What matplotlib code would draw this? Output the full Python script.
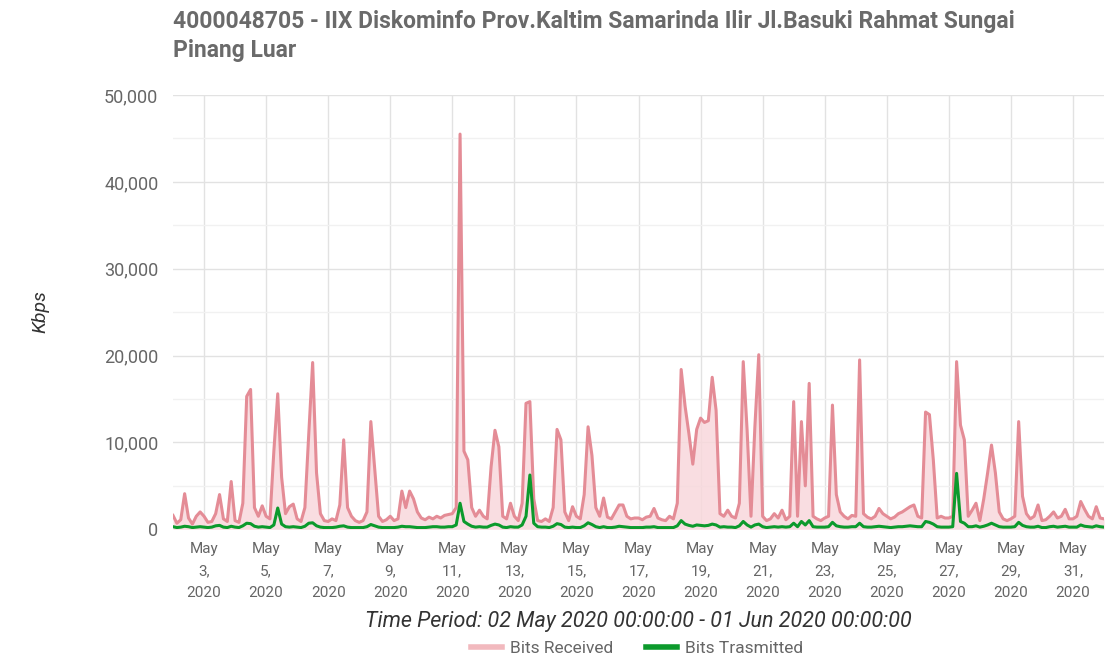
import numpy as np
import matplotlib
matplotlib.use("Agg")
import matplotlib.pyplot as plt
from matplotlib.lines import Line2D

# ---------------- data (Kbps, 3-hour samples starting 02 May 2020 00:00) ----------------
title = "4000048705 - IIX Diskominfo Prov.Kaltim Samarinda Ilir Jl.Basuki Rahmat Sungai\nPinang Luar"
period_label = "Time Period: 02 May 2020 00:00:00 - 01 Jun 2020 00:00:00"
y_label = "Kbps"
series_names = ["Bits Received", "Bits Trasmitted"]
samples_per_day = 8
tick_days = list(range(1, 30, 2))
tick_labels = [f"May\n{d + 2},\n2020" for d in tick_days]

bits_received = [
    1600, 700, 1100, 4100, 1300, 600, 1500, 2000,        # May 2
    1500, 800, 900, 1800, 4000, 1200, 900, 5500,         # May 3
    1000, 800, 3000, 15300, 16100, 2500, 1500, 2700,     # May 4
    1500, 1200, 9000, 15600, 6000, 1800, 2600, 2900,     # May 5
    1200, 900, 2500, 11000, 19200, 6500, 1800, 1000,     # May 6
    900, 1200, 1000, 2800, 10300, 2500, 1500, 1000,      # May 7
    800, 1000, 2000, 12400, 7000, 1500, 900, 1100,       # May 8
    1500, 1000, 1200, 4400, 2500, 4400, 3500, 2000,      # May 9
    1300, 1100, 1400, 1200, 1500, 1300, 1600, 1700,      # May 10
    1800, 2500, 45500, 9000, 8000, 2500, 1500, 2200,     # May 11
    1500, 1200, 7200, 11400, 9500, 1500, 1200, 3000,     # May 12
    1500, 1000, 3000, 14500, 14700, 3500, 1000, 900,     # May 13
    1200, 900, 2500, 11500, 10300, 2000, 1000, 2600,     # May 14
    1500, 1200, 4000, 11800, 8500, 2500, 1500, 3600,     # May 15
    1400, 1200, 2000, 2800, 2800, 1500, 1200, 1300,      # May 16
    1300, 1100, 1400, 1500, 2400, 1300, 1100, 1000,      # May 17
    1500, 1200, 3000, 18400, 14200, 11000, 7500, 11500,  # May 18
    12800, 12300, 12500, 17500, 13700, 1800, 1500, 2200, # May 19
    1500, 1300, 3000, 19300, 11400, 1500, 11800, 20100,  # May 20
    1500, 1000, 1200, 1800, 1300, 2200, 1100, 1500,      # May 21
    14700, 1500, 12400, 5000, 16800, 1500, 1200, 1000,   # May 22
    1300, 1500, 14300, 4000, 2000, 1500, 1200, 1600,     # May 23
    1500, 19500, 1800, 1400, 1200, 1500, 2400, 1800,     # May 24
    1500, 1200, 1400, 1800, 2000, 2300, 2600, 2800,      # May 25
    1500, 1300, 13500, 13200, 8000, 1300, 1500, 1300,    # May 26
    1300, 1500, 19300, 12000, 10300, 1500, 2200, 3000,   # May 27
    1000, 3500, 6500, 9700, 6500, 2000, 1200, 1000,      # May 28
    1200, 1500, 12400, 3800, 1800, 1200, 1500, 2800,     # May 29
    1000, 1100, 1500, 2000, 1300, 1500, 2300, 1200,      # May 30
    1200, 1500, 3200, 2300, 1500, 1200, 2600, 1300,      # May 31
    1200,                                                # Jun 1
]

bits_transmitted = [
    300, 200, 250, 350, 300, 200, 250, 300,
    250, 200, 250, 400, 450, 250, 200, 350,
    250, 200, 400, 700, 650, 350, 250, 300,
    250, 200, 500, 2450, 600, 300, 250, 300,
    250, 200, 350, 700, 750, 400, 250, 200,
    200, 200, 250, 350, 400, 250, 200, 200,
    200, 200, 300, 550, 400, 250, 200, 200,
    200, 200, 250, 350, 300, 300, 250, 200,
    200, 200, 250, 300, 300, 250, 250, 300,
    300, 500, 3000, 900, 600, 350, 250, 300,
    250, 250, 450, 600, 500, 250, 200, 300,
    250, 250, 500, 1500, 6250, 700, 300, 250,
    250, 200, 350, 650, 550, 250, 200, 250,
    200, 200, 400, 750, 550, 300, 200, 300,
    200, 200, 250, 350, 300, 250, 200, 200,
    200, 200, 250, 250, 300, 200, 200, 200,
    200, 200, 400, 1000, 600, 450, 350, 500,
    450, 400, 450, 600, 500, 250, 300, 250,
    250, 200, 400, 900, 500, 250, 500, 600,
    300, 200, 250, 300, 250, 300, 250, 300,
    700, 300, 900, 500, 1000, 300, 250, 250,
    250, 300, 800, 400, 300, 250, 250, 300,
    300, 700, 300, 250, 250, 300, 350, 300,
    250, 200, 250, 300, 300, 350, 400, 350,
    300, 300, 900, 800, 600, 300, 250, 250,
    250, 300, 6440, 900, 700, 300, 300, 400,
    250, 350, 500, 700, 500, 300, 250, 250,
    250, 300, 800, 450, 300, 250, 250, 350,
    200, 200, 300, 350, 250, 300, 350, 250,
    250, 250, 500, 350, 300, 250, 400, 300,
    250,
]

# ---------------- drawing ----------------
plt.rcParams['font.family'] = ['Roboto', 'DejaVu Sans']

recv = np.array(bits_received, dtype=float)
trans = np.array(bits_transmitted, dtype=float)
days = np.arange(len(recv)) / samples_per_day

fig = plt.figure(figsize=(11.07, 6.60), dpi=100)
ax = fig.add_axes([173 / 1107, 130.7 / 660, (1104 - 173) / 1107, (529.3 - 95) / 660])

recv_line = "#e48c96"
recv_fill = "#f8d8dc"
trans_color = "#0c9a2c"
grid_c = "#e2e2e2"
text_c = "#666666"

ax.fill_between(days, 0, recv, color=recv_fill, alpha=0.85, linewidth=0, zorder=2)
ax.plot(days, recv, color=recv_line, linewidth=2.2, zorder=3)
ax.plot(days, trans, color=trans_color, linewidth=2.2, zorder=4)

ax.set_xlim(0, 30)
ax.set_ylim(0, 50000)
ax.set_yticks(np.arange(0, 50001, 10000))
ax.set_yticks(np.arange(5000, 50000, 10000), minor=True)
ax.set_yticklabels([f"{v:,}" for v in range(0, 50001, 10000)])
ax.set_xticks(tick_days)
ax.set_xticklabels(tick_labels, linespacing=1.74)

ax.grid(True, which='major', axis='both', color=grid_c, linewidth=1.0, zorder=0)
ax.grid(True, which='minor', axis='y', color="#f1f1f1", linewidth=1.0, zorder=0)
ax.set_axisbelow(True)
for s in ax.spines.values():
    s.set_visible(False)
ax.tick_params(axis='both', which='both', length=0)
ax.tick_params(axis='y', pad=10.5, labelsize=13, labelcolor=text_c)
ax.tick_params(axis='x', pad=9, labelsize=11, labelcolor=text_c)

ax.set_xlabel(period_label, fontsize=15.5, style='italic', color="#333333", labelpad=8)
fig.text(40 / 1107, 1 - 312 / 660, y_label, rotation=90, fontsize=14, style='italic',
         color="#333333", ha='center', va='center')

fig.text(173 / 1107, 1 - 10 / 660, title, fontsize=16.5, fontweight='bold', color="#6a6a6a",
         ha='left', va='top', linespacing=1.34)

handles = [Line2D([0], [0], color="#f2b9be", linewidth=4),
           Line2D([0], [0], color=trans_color, linewidth=4)]
fig.legend(handles, series_names, loc='center', bbox_to_anchor=(637 / 1107, 1 - 648 / 660),
           ncol=2, frameon=False, fontsize=12.5, labelcolor=text_c, handlelength=1.8,
           columnspacing=1.9, handletextpad=0.45)

fig.savefig("out.png", dpi=100)
